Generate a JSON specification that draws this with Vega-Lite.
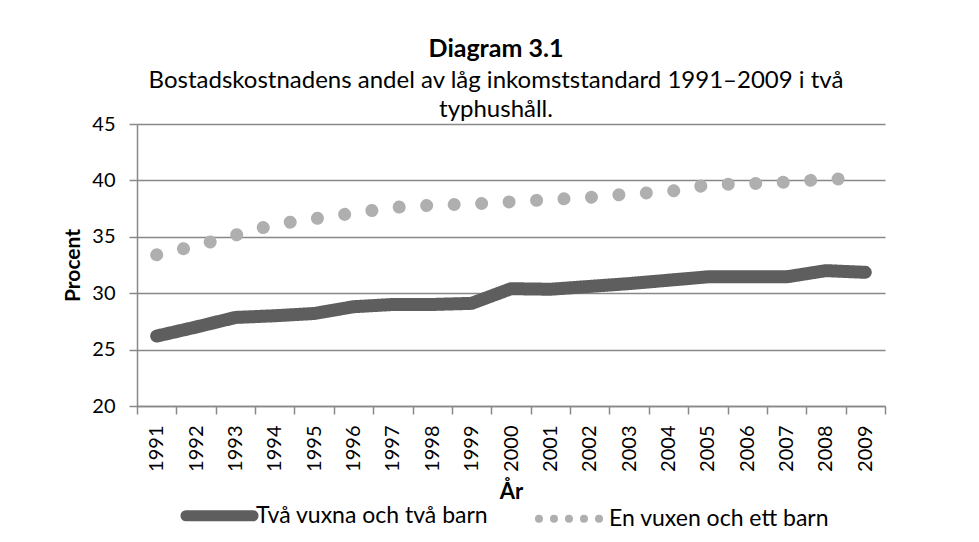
{
  "$schema": "https://vega.github.io/schema/vega-lite/v6.json",
  "width": 748,
  "height": 282,
  "autosize": {"type": "none"},
  "padding": {"left": 137, "top": 124, "right": 94, "bottom": 136},
  "background": "white",
  "config": {
    "font": "Lato",
    "view": {"stroke": null}
  },
  "title": {
    "text": "Diagram 3.1",
    "subtitle": ["Bostadskostnadens andel av låg inkomststandard 1991–2009 i två", "typhushåll."],
    "anchor": "middle",
    "frame": "group",
    "dx": -15,
    "offset": -8,
    "font": "Lato",
    "fontSize": 25,
    "fontWeight": "bold",
    "color": "black",
    "subtitleFont": "Lato",
    "subtitleFontSize": 24,
    "subtitleColor": "black",
    "subtitleLineHeight": 29,
    "subtitlePadding": 7
  },
  "data": {
    "values": [
      {"year": "1991", "series": "Två vuxna och två barn", "value": 26.2},
      {"year": "1992", "series": "Två vuxna och två barn", "value": 27.0},
      {"year": "1993", "series": "Två vuxna och två barn", "value": 27.85},
      {"year": "1994", "series": "Två vuxna och två barn", "value": 28.0},
      {"year": "1995", "series": "Två vuxna och två barn", "value": 28.2},
      {"year": "1996", "series": "Två vuxna och två barn", "value": 28.8},
      {"year": "1997", "series": "Två vuxna och två barn", "value": 29.0},
      {"year": "1998", "series": "Två vuxna och två barn", "value": 29.0},
      {"year": "1999", "series": "Två vuxna och två barn", "value": 29.1},
      {"year": "2000", "series": "Två vuxna och två barn", "value": 30.4},
      {"year": "2001", "series": "Två vuxna och två barn", "value": 30.35},
      {"year": "2002", "series": "Två vuxna och två barn", "value": 30.6},
      {"year": "2003", "series": "Två vuxna och två barn", "value": 30.85},
      {"year": "2004", "series": "Två vuxna och två barn", "value": 31.15},
      {"year": "2005", "series": "Två vuxna och två barn", "value": 31.45},
      {"year": "2006", "series": "Två vuxna och två barn", "value": 31.45},
      {"year": "2007", "series": "Två vuxna och två barn", "value": 31.45},
      {"year": "2008", "series": "Två vuxna och två barn", "value": 32.0},
      {"year": "2009", "series": "Två vuxna och två barn", "value": 31.85},
      {"year": "1991", "series": "En vuxen och ett barn", "value": 33.4},
      {"year": "1992", "series": "En vuxen och ett barn", "value": 34.2},
      {"year": "1993", "series": "En vuxen och ett barn", "value": 35.15},
      {"year": "1994", "series": "En vuxen och ett barn", "value": 36.1},
      {"year": "1995", "series": "En vuxen och ett barn", "value": 36.6},
      {"year": "1996", "series": "En vuxen och ett barn", "value": 37.1},
      {"year": "1997", "series": "En vuxen och ett barn", "value": 37.6},
      {"year": "1998", "series": "En vuxen och ett barn", "value": 37.8},
      {"year": "1999", "series": "En vuxen och ett barn", "value": 37.9},
      {"year": "2000", "series": "En vuxen och ett barn", "value": 38.1},
      {"year": "2001", "series": "En vuxen och ett barn", "value": 38.3},
      {"year": "2002", "series": "En vuxen och ett barn", "value": 38.5},
      {"year": "2003", "series": "En vuxen och ett barn", "value": 38.8},
      {"year": "2004", "series": "En vuxen och ett barn", "value": 39.0},
      {"year": "2005", "series": "En vuxen och ett barn", "value": 39.6},
      {"year": "2006", "series": "En vuxen och ett barn", "value": 39.7},
      {"year": "2007", "series": "En vuxen och ett barn", "value": 39.85},
      {"year": "2008", "series": "En vuxen och ett barn", "value": 40.1},
      {"year": "2009", "series": "En vuxen och ett barn", "value": 40.2}
    ]
  },
  "mark": {
    "type": "line",
    "strokeWidth": 13,
    "strokeCap": "round",
    "strokeJoin": "round",
    "strokeDash": {"expr": "datum.series === 'En vuxen och ett barn' ? [0.01, 27.5] : [1, 0]"}
  },
  "encoding": {
    "x": {
      "field": "year",
      "type": "ordinal",
      "scale": {"type": "band", "paddingInner": 0, "paddingOuter": 0},
      "axis": {
        "title": "År",
        "titleFont": "Lato",
        "titleFontSize": 22,
        "titleFontWeight": "bold",
        "titleColor": "black",
        "titlePadding": 10,
        "labelAngle": 270,
        "labelFontSize": 20,
        "labelColor": "black",
        "labelPadding": 11,
        "tickBand": "extent",
        "tickSize": 8,
        "tickColor": "#888888",
        "tickWidth": 1.5,
        "domainColor": "#888888",
        "domainWidth": 1.5,
        "grid": false
      }
    },
    "y": {
      "field": "value",
      "type": "quantitative",
      "scale": {"domain": [20, 45], "nice": false, "zero": false},
      "axis": {
        "title": "Procent",
        "titleFont": "Lato",
        "titleFontSize": 21,
        "titleFontWeight": "bold",
        "titleColor": "black",
        "titlePadding": 8,
        "values": [20, 25, 30, 35, 40, 45],
        "labelFontSize": 20,
        "labelColor": "black",
        "labelPadding": 14,
        "tickSize": 8,
        "tickColor": "#888888",
        "tickWidth": 1.5,
        "domainColor": "#888888",
        "domainWidth": 1.5,
        "grid": true,
        "gridColor": "#888888",
        "gridWidth": 1.5
      }
    },
    "color": {
      "field": "series",
      "type": "nominal",
      "scale": {
        "domain": ["Två vuxna och två barn", "En vuxen och ett barn"],
        "range": ["#5e5e5e", "#afafaf"]
      },
      "legend": {
        "title": null,
        "orient": "none",
        "legendX": 71,
        "legendY": 380,
        "direction": "horizontal",
        "symbolType": "stroke",
        "symbolSize": 4500,
        "symbolStrokeWidth": 10,
        "labelFont": "Lato",
        "labelFontSize": 23,
        "labelColor": "black",
        "labelOffset": 25,
        "labelLimit": 400,
        "columnPadding": 33,
        "encode": {
          "symbols": {
            "update": {
              "strokeDash": {"signal": "datum.value === 'En vuxen och ett barn' ? [0.01, 15] : [1, 0]"},
              "strokeCap": {"value": "round"},
              "strokeWidth": {"signal": "datum.value === 'En vuxen och ett barn' ? 8 : 11"}
            }
          }
        }
      }
    }
  }
}
